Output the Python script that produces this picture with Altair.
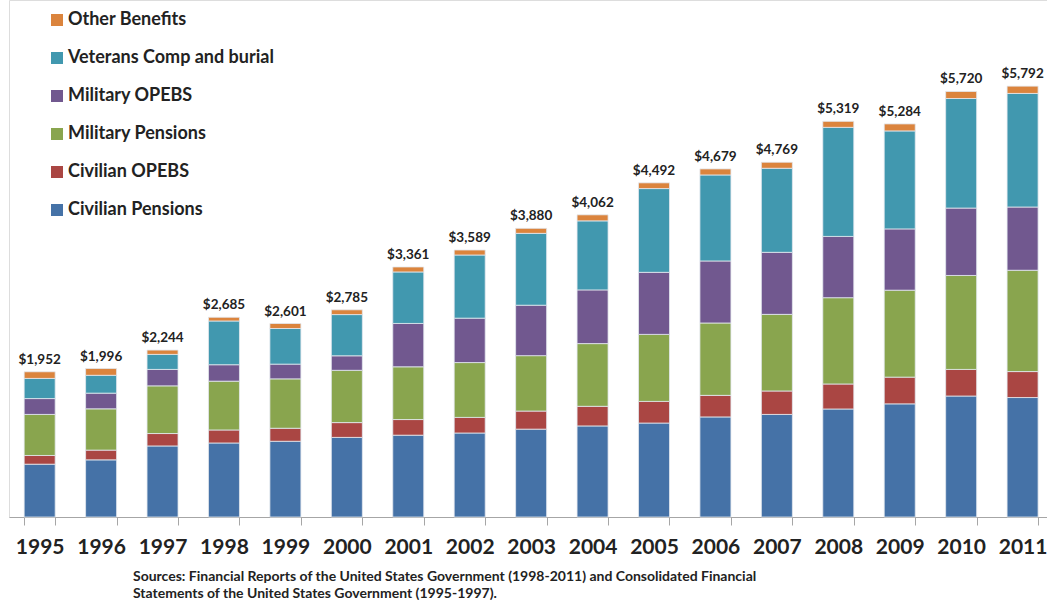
import altair as alt
import pandas as pd

years = [str(y) for y in range(1995, 2012)]
totals = [1952, 1996, 2244, 2685, 2601, 2785, 3361, 3589, 3880, 4062, 4492, 4679, 4769, 5319, 5284, 5720, 5792]

civilian_pensions = [710, 768, 955, 995, 1018, 1070, 1100, 1129, 1181, 1224, 1263, 1345, 1379, 1452, 1521, 1626, 1606]
civilian_opebs = [117, 131, 167, 175, 175, 199, 210, 210, 243, 264, 291, 290, 315, 336, 359, 358, 349]
military_pensions = [552, 555, 641, 656, 664, 703, 709, 737, 745, 843, 901, 973, 1030, 1160, 1169, 1263, 1362]
military_opebs = [213, 211, 221, 221, 198, 195, 583, 597, 678, 722, 834, 834, 834, 824, 824, 906, 850]
veterans_comp = [271, 240, 202, 588, 479, 554, 692, 849, 966, 928, 1126, 1156, 1130, 1466, 1317, 1473, 1527]
other_benefits = [89, 91, 58, 50, 67, 64, 67, 67, 67, 81, 77, 81, 81, 81, 94, 94, 98]

series_names = ["Civilian Pensions", "Civilian OPEBS", "Military Pensions",
                "Military OPEBS", "Veterans Comp and burial", "Other Benefits"]
series_values = [civilian_pensions, civilian_opebs, military_pensions,
                 military_opebs, veterans_comp, other_benefits]
series_colors = ["#4572A7", "#AA4643", "#89A54E", "#71588F", "#4198AF", "#DB843D"]

source_lines = [
    "Sources: Financial Reports of the United States Government (1998-2011) and Consolidated Financial",
    "Statements of the United States Government (1995-1997).",
]

rows = []
for k, (name, vals) in enumerate(zip(series_names, series_values)):
    for y, v in zip(years, vals):
        rows.append({"year": y, "series": name, "value": v, "ord": k})
df = pd.DataFrame(rows)
tot_df = pd.DataFrame({"year": years, "total": totals})

FONT = "Lato"
legend_domain = list(reversed(series_names))
legend_range = list(reversed(series_colors))

xscale = alt.Scale(paddingInner=0.4954, paddingOuter=0.196, align=0.63)
yscale = alt.Scale(domain=[0, 6950])

bars = alt.Chart(df).mark_bar(stroke="#e3e8ef", strokeWidth=0.8).encode(
    x=alt.X("year:N", scale=xscale, sort=years,
            axis=alt.Axis(title=None, labelAngle=0, tickBand="extent",
                          labelFontSize=21, labelFontWeight="bold", labelFont=FONT,
                          labelColor="#222222", domainColor="#a6a6a6", tickColor="#a6a6a6",
                          tickSize=8, labelPadding=11)),
    y=alt.Y("value:Q", stack="zero", scale=yscale, axis=None),
    color=alt.Color("series:N",
                    scale=alt.Scale(domain=legend_domain, range=legend_range),
                    legend=alt.Legend(title=None, orient="none", legendX=39, legendY=11,
                                      symbolType="square", symbolSize=144, symbolStrokeWidth=0,
                                      labelFontSize=18, labelFont=FONT, labelFontWeight="bold",
                                      labelColor="#222222", rowPadding=20, labelOffset=2,
                                      labelLimit=400, padding=0, symbolOpacity=1)),
    order=alt.Order("ord:Q", sort="ascending"),
)

labels = alt.Chart(tot_df).mark_text(
    baseline="bottom", dy=-5, fontSize=13.5, fontWeight="bold", font=FONT, color="#222222"
).encode(
    x=alt.X("year:N", scale=xscale, sort=years),
    y=alt.Y("total:Q", scale=yscale),
    text=alt.Text("total:Q", format="$,.0f"),
)

chart = alt.layer(bars, labels).properties(
    width=1038, height=517,
    padding={"left": 9, "right": 0, "top": 0, "bottom": 83},
    autosize=alt.AutoSizeParams(type="none"),
    title=alt.TitleParams(text=source_lines, orient="bottom", anchor="start", dx=124,
                          offset=13, fontSize=14, fontWeight="bold", font=FONT,
                          color="#222222", lineHeight=17),
).configure_view(stroke=None).configure(background="white")

chart.save("out.html", embed_options={"renderer": "svg", "actions": False})
